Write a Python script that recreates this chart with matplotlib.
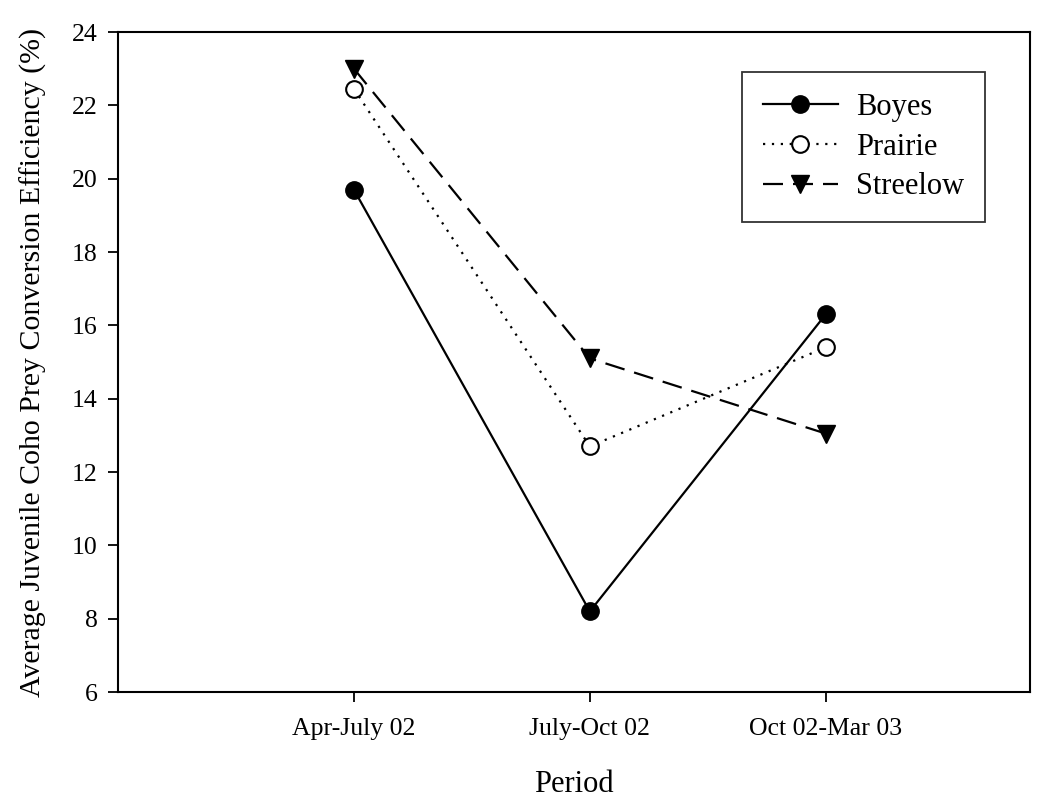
import matplotlib.pyplot as plt

plt.rcParams['font.family'] = ['Liberation Serif', 'DejaVu Serif']

# average conversion efficiency (%) per period and site
periods = ['Apr-July 02', 'July-Oct 02', 'Oct 02-Mar 03']
boyes = [19.7, 8.2, 16.3]
prairie = [22.45, 12.7, 15.4]
streelow = [23.0, 15.1, 13.05]

fig = plt.figure(figsize=(10.54, 8.01), dpi=100)
ax = fig.add_axes([0.112, 0.136, 0.865, 0.824])

x = [1, 2, 3]
ax.plot(x, boyes, color='black', linestyle='-', linewidth=1.6,
        marker='o', markersize=12.5, markerfacecolor='black', label='Boyes')
ax.plot(x, prairie, color='black', linestyle=(0, (1, 3)), linewidth=1.6,
        marker='o', markersize=12, markerfacecolor='white',
        markeredgewidth=1.5, label='Prairie')
ax.plot(x, streelow, color='black', linestyle=(0, (9, 4.5)), linewidth=1.6,
        marker='v', markersize=12.5, markerfacecolor='black', label='Streelow')

ax.set_xlim(0, 3.865)
ax.set_ylim(6, 24)
ax.set_xticks(x)
ax.set_xticklabels(periods)
ax.set_yticks(range(6, 25, 2))
ax.tick_params(direction='out', length=7.5, width=1.3, labelsize=18.5,
               color='black', top=False, right=False)
ax.tick_params(axis='x', pad=11)
ax.tick_params(axis='y', pad=7)
for s in ax.spines.values():
    s.set_linewidth(1.5)

ax.set_ylabel('Average Juvenile Coho Prey Conversion Efficiency (%)',
              fontsize=21.5, labelpad=18)
ax.set_xlabel('Period', fontsize=22, labelpad=22)

leg = ax.legend(loc='upper right', bbox_to_anchor=(0.951, 0.939),
                fontsize=22, frameon=True, fancybox=False,
                edgecolor='black', handlelength=2.45, labelspacing=0.35,
                borderpad=0.68, handletextpad=0.6, borderaxespad=0)
leg.get_frame().set_linewidth(1.3)

fig.savefig('out.png', dpi=100)
